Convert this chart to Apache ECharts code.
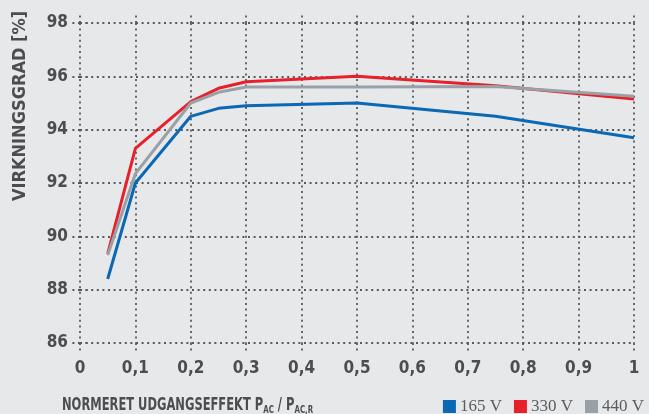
<!DOCTYPE html>
<html><head><meta charset="utf-8">
<script src="https://cdn.jsdelivr.net/npm/echarts@6/dist/echarts.min.js"></script>
<style>html,body{margin:0;padding:0;background:#e7e8ea;}#c{width:649px;height:414px;}</style>
</head><body><div id="c"></div>
<script>
const xTicks = [0, 0.1, 0.2, 0.3, 0.4, 0.5, 0.6, 0.7, 0.8, 0.9, 1];
const yTicks = [86, 88, 90, 92, 94, 96, 98];
const xValues = [0.05, 0.1, 0.2, 0.25, 0.3, 0.5, 0.75, 1];
const v165 = [88.4, 92.0, 94.5, 94.8, 94.9, 95.0, 94.5, 93.7];
const v330 = [89.35, 93.3, 95.05, 95.55, 95.8, 96.0, 95.65, 95.15];
const v440 = [89.3, 92.35, 95.0, 95.4, 95.6, 95.6, 95.62, 95.25];
const seriesNames = ['165 V', '330 V', '440 V'];
const colors = ['#0a68b4', '#e8202a', '#98a1a8'];

const FONT = '"DejaVu Sans Condensed", sans-serif';
const dot = {type: [2, 3.6], width: 1.8, color: '#555a5e'};
const labelFont = {fontFamily: FONT, fontWeight: 'bold', fontSize: 17, color: '#4b4d50'};
const fmt = v => String(Math.round(v * 10) / 10).replace('.', ',');

const chart = echarts.init(document.getElementById('c'));
const pair = arr => xValues.map((x, i) => [x, arr[i]]);
chart.setOption({
  backgroundColor: '#e7e8ea',
  animation: false,
  grid: {left: 80, right: 15, top: 23, bottom: 71},
  xAxis: [{
    type: 'value', min: 0, max: 1, interval: 0.1,
    axisLine: {show: false},
    axisTick: {show: true, length: 9, lineStyle: dot},
    splitLine: {show: true, lineStyle: dot},
    axisLabel: Object.assign({margin: 17, formatter: fmt}, labelFont)
  }, {
    type: 'value', position: 'top', min: 0, max: 1, interval: 0.1,
    axisLine: {show: false},
    axisTick: {show: true, length: 10, lineStyle: dot},
    splitLine: {show: false}, axisLabel: {show: false}
  }],
  yAxis: [{
    type: 'value', min: 86, max: 98, interval: 2,
    axisLine: {show: false},
    axisTick: {show: true, length: 8, lineStyle: dot},
    splitLine: {show: true, lineStyle: dot},
    axisLabel: Object.assign({margin: 12}, labelFont)
  }, {
    type: 'value', position: 'right', min: 86, max: 98, interval: 2,
    axisLine: {show: false},
    axisTick: {show: true, length: 10, lineStyle: dot},
    splitLine: {show: false}, axisLabel: {show: false}
  }],
  legend: {
    right: 0, bottom: -6, itemWidth: 13, itemHeight: 13, itemGap: 12,
    icon: 'rect',
    textStyle: {fontFamily: 'Liberation Serif', fontSize: 17, color: '#5a5d60', padding: [0, 0, 0, -1]},
    data: seriesNames
  },
  series: [v165, v330, v440].map((arr, i) => ({
    name: seriesNames[i], type: 'line', data: pair(arr),
    showSymbol: false, symbol: 'none',
    lineStyle: {width: 3, color: colors[i]}, itemStyle: {color: colors[i]},
    z: i === 2 ? 3 : (i === 1 ? 2 : 4)
  })),
  graphic: [{
    type: 'text', x: 20, y: 106, rotation: Math.PI / 2,
    style: {text: 'VIRKNINGSGRAD [%]', fontFamily: FONT, fontWeight: 'bold', fontSize: 18,
      fill: '#4b4d50', align: 'center', verticalAlign: 'middle'}
  }, {
    type: 'text', x: 62, y: 405, scaleX: 0.71,
    style: {
      text: '{m|NORMERET UDGANGSEFFEKT P}{s|AC}{m| / P}{s|AC,R}',
      verticalAlign: 'middle',
      rich: {
        m: {fontFamily: FONT, fontWeight: 'bold', fontSize: 18, fill: '#4b4d50', color: '#4b4d50'},
        s: {fontFamily: FONT, fontWeight: 'bold', fontSize: 11, fill: '#4b4d50', color: '#4b4d50', padding: [10, 0, 0, 0]}
      }
    }
  }]
});
</script></body></html>
